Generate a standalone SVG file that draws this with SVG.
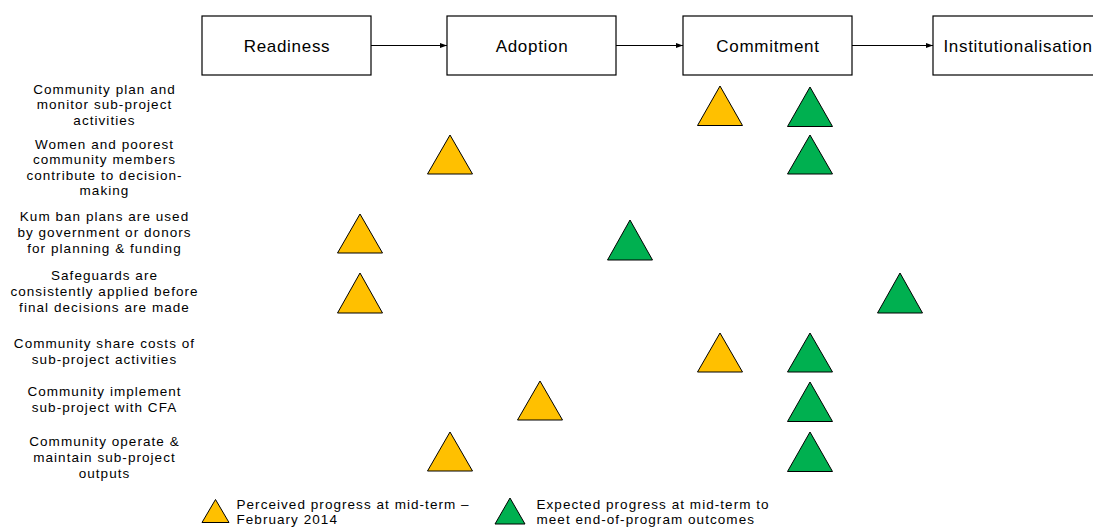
<svg xmlns="http://www.w3.org/2000/svg" width="1093" height="527" viewBox="0 0 1093 527">
  <defs>
    <marker id="arrow" viewBox="0 0 7 5" refX="7" refY="2.5" markerWidth="7" markerHeight="5" markerUnits="userSpaceOnUse" orient="auto">
      <path d="M0,0 L7,2.5 L0,5 Z" fill="#000"/>
    </marker>
    <style>
      .box { fill: #fff; stroke: #000; stroke-width: 1.2; }
      .boxlabel { font-family: "Liberation Sans", Arial, sans-serif; font-size: 17px; letter-spacing: 0.7px; text-anchor: middle; fill: #000; }
      .label { font-family: "Liberation Sans", Arial, sans-serif; font-size: 13.5px; letter-spacing: 1.05px; text-anchor: middle; fill: #000; }
      .legend { font-family: "Liberation Sans", Arial, sans-serif; font-size: 13.5px; letter-spacing: 1.05px; fill: #000; }
      .conn { stroke: #000; stroke-width: 1; fill: none; }
      .yel { fill: #FFC000; stroke: #000; stroke-width: 1; }
      .grn { fill: #00B050; stroke: #000; stroke-width: 1; }
    </style>
  </defs>
  <rect width="1093" height="527" fill="#fff"/>

  <g id="connectors">
    <line class="conn" x1="371" y1="45.5" x2="447" y2="45.5" marker-end="url(#arrow)"/>
    <line class="conn" x1="616" y1="45.5" x2="683" y2="45.5" marker-end="url(#arrow)"/>
    <line class="conn" x1="852" y1="45.5" x2="933" y2="45.5" marker-end="url(#arrow)"/>
  </g>

  <g id="node-readiness">
    <rect class="box" x="202" y="16" width="169" height="59"/>
    <text class="boxlabel" x="287" y="51.5">Readiness</text>
  </g>
  <g id="node-adoption">
    <rect class="box" x="447" y="16" width="169" height="59"/>
    <text class="boxlabel" x="532" y="51.5">Adoption</text>
  </g>
  <g id="node-commitment">
    <rect class="box" x="683" y="16" width="169" height="59"/>
    <text class="boxlabel" x="768" y="51.5">Commitment</text>
  </g>
  <g id="node-institutionalisation">
    <rect class="box" x="933" y="16" width="169" height="59"/>
    <text class="boxlabel" x="1018" y="51.5">Institutionalisation</text>
  </g>

  <g id="row-labels">
    <text class="label" x="104.5" y="93.5">Community plan and</text>
    <text class="label" x="104.5" y="109">monitor sub-project</text>
    <text class="label" x="104.5" y="124.5">activities</text>

    <text class="label" x="104.5" y="148.5">Women and poorest</text>
    <text class="label" x="104.5" y="164">community members</text>
    <text class="label" x="104.5" y="179.5">contribute to decision-</text>
    <text class="label" x="104.5" y="195">making</text>

    <text class="label" x="104.5" y="220.5">Kum ban plans are used</text>
    <text class="label" x="104.5" y="236.5">by government or donors</text>
    <text class="label" x="104.5" y="252.5">for planning &amp; funding</text>

    <text class="label" x="104.5" y="280">Safeguards are</text>
    <text class="label" x="104.5" y="296">consistently applied before</text>
    <text class="label" x="104.5" y="312">final decisions are made</text>

    <text class="label" x="104.5" y="348">Community share costs of</text>
    <text class="label" x="104.5" y="364">sub-project activities</text>

    <text class="label" x="104.5" y="396">Community implement</text>
    <text class="label" x="104.5" y="412">sub-project with CFA</text>

    <text class="label" x="104.5" y="445.5">Community operate &amp;</text>
    <text class="label" x="104.5" y="461.5">maintain sub-project</text>
    <text class="label" x="104.5" y="477.5">outputs</text>
  </g>

  <g id="markers-perceived">
    <polygon class="yel" points="720,86 742.5,125.5 697.5,125.5"/>
    <polygon class="yel" points="450,135 472.5,174 427.5,174"/>
    <polygon class="yel" points="360,214 382.5,253 337.5,253"/>
    <polygon class="yel" points="360,273 382.5,313 337.5,313"/>
    <polygon class="yel" points="720,333 742.5,372 697.5,372"/>
    <polygon class="yel" points="540,381 562.5,420 517.5,420"/>
    <polygon class="yel" points="450,432 472.5,471 427.5,471"/>
  </g>

  <g id="markers-expected">
    <polygon class="grn" points="810,87 832.5,126.5 787.5,126.5"/>
    <polygon class="grn" points="810,135 832.5,174 787.5,174"/>
    <polygon class="grn" points="630,220 652.5,260 607.5,260"/>
    <polygon class="grn" points="900,273 922.5,313 877.5,313"/>
    <polygon class="grn" points="810,333 832.5,372 787.5,372"/>
    <polygon class="grn" points="810,382 832.5,421.5 787.5,421.5"/>
    <polygon class="grn" points="810,432 832.5,471.5 787.5,471.5"/>
  </g>

  <g id="legend">
    <g id="legend-perceived">
      <polygon class="yel" points="215.5,499.5 229,522.5 202,522.5"/>
      <text class="legend" x="236.5" y="508.5">Perceived progress at mid-term –</text>
      <text class="legend" x="236.5" y="523.5">February 2014</text>
    </g>
    <g id="legend-expected">
      <polygon class="grn" points="510,498 525,524 495,524"/>
      <text class="legend" x="536.5" y="508.5">Expected progress at mid-term to</text>
      <text class="legend" x="536.5" y="523.5">meet end-of-program outcomes</text>
    </g>
  </g>
</svg>
